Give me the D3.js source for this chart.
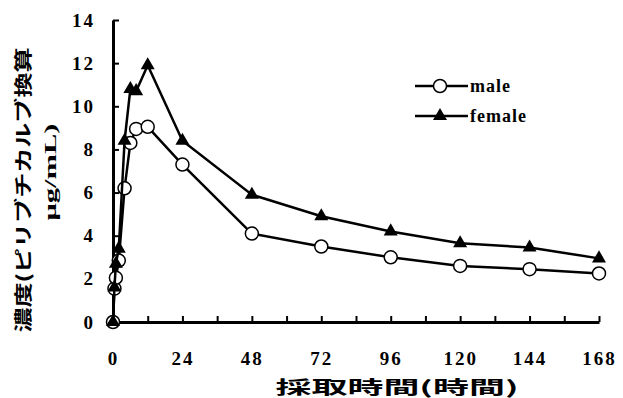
<!DOCTYPE html>
<html>
<head>
<meta charset="utf-8">
<script src="https://cdn.jsdelivr.net/npm/d3@7"></script>
<style>
  body { margin: 0; background: #fff; }
  .tick text { font-family: "Liberation Serif", serif; font-weight: bold; font-size: 19px; letter-spacing: 2px; fill: #000; }
</style>
</head>
<body>
<div class="chart"></div>
<script>
// sampling times (h) and concentrations
let times = [0, 0.5, 1, 2, 4, 6, 8, 12, 24, 48, 72, 96, 120, 144, 168]
let male = [0, 1.55, 2.05, 2.85, 6.2, 8.3, 8.95, 9.05, 7.3, 4.1, 3.5, 3.0, 2.6, 2.45, 2.25]
let female = [0, 1.6, 2.7, 3.4, 8.4, 10.8, 10.7, 11.9, 8.4, 5.9, 4.9, 4.2, 3.65, 3.45, 2.95]
let x_ticks = d3.range(0, 169, 12)
let y_ticks = [0, 2, 4, 6, 8, 10, 12, 14]
let series_names = ["male", "female"]

let width = 623
let height = 398

let svg = d3.select(".chart")
    .append("svg")
        .attr("width", width)
        .attr("height", height)

let x = d3.scaleLinear().domain([0, 168]).range([113, 599])
let y = d3.scaleLinear().domain([0, 14]).range([322, 20])

// y axis, ticks pointing inward
let y_axis = svg.append("g")
    .attr("transform", "translate(113,0)")
    .call(d3.axisLeft(y).tickValues(y_ticks).tickSizeInner(-6).tickSizeOuter(0).tickPadding(18))
y_axis.select(".domain").attr("stroke-width", 3).attr("stroke", "#000")
y_axis.selectAll(".tick line").attr("stroke-width", 2)

// x axis, ticks pointing inward, labels every 24h
let x_axis = svg.append("g")
    .attr("transform", "translate(0,322)")
    .call(d3.axisBottom(x).tickValues(x_ticks).tickSizeInner(-6).tickSizeOuter(0).tickPadding(30)
        .tickFormat(d => d % 24 == 0 ? d : ""))
x_axis.select(".domain").attr("stroke-width", 3).attr("stroke", "#000")
x_axis.selectAll(".tick line").attr("stroke-width", 2)

let line = d3.line()
    .x(d => x(d[0]))
    .y(d => y(d[1]))

function draw_series(values, marker){
    let data = times.map((t, i) => [t, values[i]])
    svg.append("path")
        .datum(data)
        .attr("fill", "none")
        .attr("stroke", "#000")
        .attr("stroke-width", 2.5)
        .attr("d", line)

    let g = svg.append("g")
    if(marker == "circle"){
        g.selectAll("circle")
            .data(data)
            .enter()
            .append("circle")
                .attr("cx", d => x(d[0]))
                .attr("cy", d => y(d[1]))
                .attr("r", 6.5)
                .attr("fill", "#fff")
                .attr("stroke", "#000")
                .attr("stroke-width", 1.5)
    } else {
        g.selectAll("path")
            .data(data)
            .enter()
            .append("path")
                .attr("transform", d => "translate(" + x(d[0]) + "," + y(d[1]) + ")")
                .attr("d", d3.symbol().type(d3.symbolTriangle).size(85))
                .attr("fill", "#000")
    }
}

draw_series(male, "circle")
draw_series(female, "triangle")

// legend
let legend = svg.append("g")
series_names.forEach((name, i) => {
    let ly = 86 + i * 30
    legend.append("line")
        .attr("x1", 415).attr("x2", 468)
        .attr("y1", ly).attr("y2", ly)
        .attr("stroke", "#000")
        .attr("stroke-width", 2.5)
    if(i == 0){
        legend.append("circle")
            .attr("cx", 440).attr("cy", ly).attr("r", 6.5)
            .attr("fill", "#fff").attr("stroke", "#000").attr("stroke-width", 1.5)
    } else {
        legend.append("path")
            .attr("transform", "translate(440," + ly + ")")
            .attr("d", d3.symbol().type(d3.symbolTriangle).size(85))
            .attr("fill", "#000")
    }
    legend.append("text")
        .attr("x", 470)
        .attr("y", ly + 6)
        .attr("font-family", "Liberation Serif, serif")
        .attr("font-weight", "bold")
        .attr("font-size", 18)
        .attr("letter-spacing", 1)
        .text(name)
})

// axis titles
svg.append("text")
    .attr("x", 397)
    .attr("y", 394)
    .attr("text-anchor", "middle")
    .attr("font-family", "Noto Sans CJK JP")
    .attr("font-weight", "bold")
    .attr("font-size", 18)
    .attr("textLength", 243)
    .attr("lengthAdjust", "spacingAndGlyphs")
    .text("採取時間(時間)")

svg.append("text")
    .attr("transform", "translate(30,190) rotate(-90)")
    .attr("text-anchor", "middle")
    .attr("font-family", "Noto Sans CJK JP")
    .attr("font-weight", "bold")
    .attr("font-size", 18)
    .attr("textLength", 285)
    .attr("lengthAdjust", "spacingAndGlyphs")
    .text("濃度(ピリブチカルブ換算")

svg.append("text")
    .attr("transform", "translate(56,172) rotate(-90)")
    .attr("text-anchor", "middle")
    .attr("font-family", "Liberation Serif, serif")
    .attr("font-weight", "bold")
    .attr("font-size", 17)
    .attr("textLength", 97)
    .attr("lengthAdjust", "spacingAndGlyphs")
    .text("μg/mL)")
</script>
</body>
</html>
